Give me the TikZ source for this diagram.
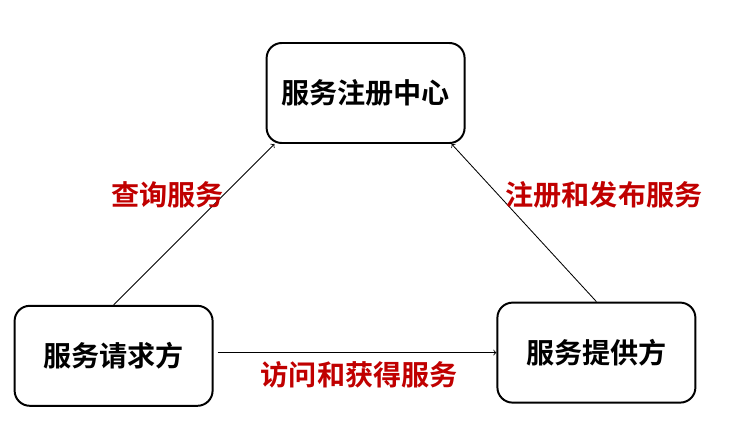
\documentclass[tikz,border=0pt]{standalone}
\usepackage{fontspec}
\newfontfamily\cjk{Noto Sans CJK SC}[BoldFont={* Bold}]
\definecolor{labelred}{RGB}{192,0,0}
\begin{document}
\begin{tikzpicture}[
  party/.style={draw, line width=1.4pt, rounded corners=0.38cm, minimum width=4.95cm, minimum height=2.5cm, font=\cjk\bfseries\fontsize{20}{24}\selectfont},
  flow/.style={->, line width=0.6pt},
  flowlabel/.style={text=labelred, font=\cjk\bfseries\fontsize{20}{24}\selectfont}
]
\useasboundingbox (0,0) rectangle (18.65,10.725);

% Boxes
\node[party] (reg) at (9.14,8.4) {服务注册中心};
\node[party] (req) at (2.84,1.83) {服务请求方};
\node[party] (prov) at (14.91,1.91) {服务提供方};

% Arrows
\draw[flow] (req.north) -- ([xshift=0.22cm]reg.south west);
\draw[flow] (prov.north) -- ([xshift=-0.35cm]reg.south east);
\draw[flow] ([xshift=0.1cm]req.east |- prov.west) -- (prov.west);

% Labels
\node[flowlabel] (query) at (4.19,5.85) {查询服务};
\node[flowlabel] (publish) at (15.1,5.85) {注册和发布服务};
\node[flowlabel] (access) at (8.98,1.35) {访问和获得服务};
\end{tikzpicture}
\end{document}
